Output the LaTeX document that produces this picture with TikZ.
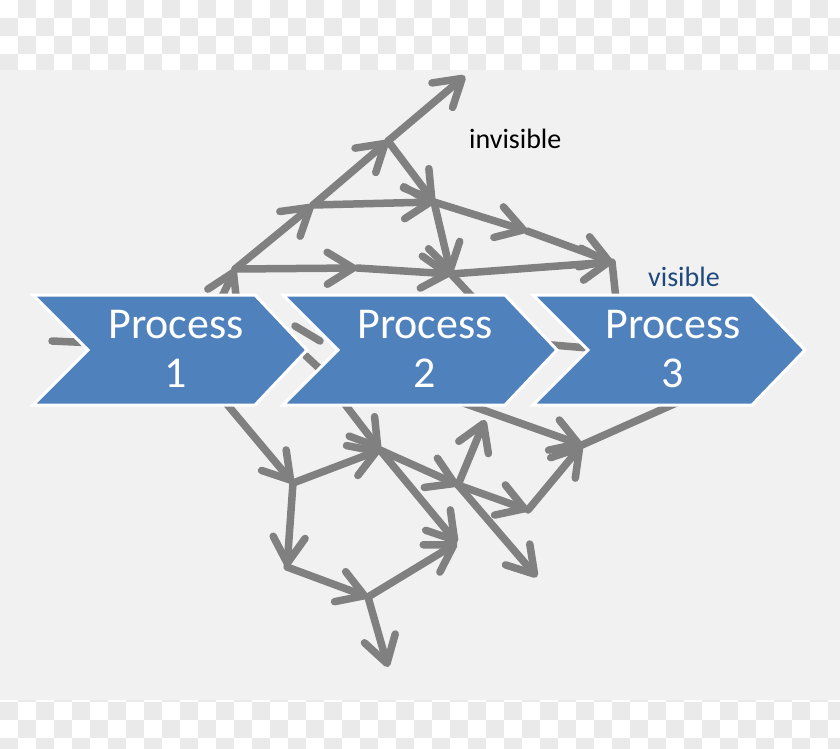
\documentclass[tikz,border=0pt]{standalone}
\usepackage{fontspec}
\setmainfont{Carlito}
\usetikzlibrary{arrows.meta}
\definecolor{bgc}{HTML}{F1F1F1}
\definecolor{chk}{HTML}{EAEAEA}
\definecolor{arr}{HTML}{808080}
\definecolor{chev}{HTML}{4F81BD}
\definecolor{vis}{HTML}{1F497D}
\begin{document}
\begin{tikzpicture}[x=1pt,y=-1pt,
  link/.style={draw=arr, line width=7.5pt, line cap=round, -{Straight Barb[length=26pt,width=32pt,round]}},
  plain/.style={draw=arr, line width=7.5pt, line cap=round},
  chevron/.style={fill=chev, draw=white, line width=3pt, line join=miter},
  ptext/.style={text=white, font=\fontsize{44}{48}\selectfont, anchor=base, inner sep=0pt},
  lbl/.style={font=\fontsize{28}{30}\selectfont, anchor=base west, inner sep=0pt},
]
\useasboundingbox (0,0) rectangle (840,749);
\fill[bgc] (0,0) rectangle (840,749);
% checker strips
\begin{scope}
\clip (0,0) rectangle (840,70);
\fill[white] (0,0) rectangle (840,70);
\foreach \i in {0,...,46} {\foreach \j in {0,...,3} {
  \ifodd\numexpr\i+\j\relax \fill[chk] (\i*18,\j*18) rectangle (\i*18+18,\j*18+18); \fi}}
\end{scope}
\begin{scope}
\clip (0,700) rectangle (840,749);
\fill[white] (0,700) rectangle (840,749);
\foreach \i in {0,...,46} {\foreach \j in {38,...,41} {
  \ifodd\numexpr\i+\j\relax \fill[chk] (\i*18,\j*18) rectangle (\i*18+18,\j*18+18); \fi}}
\end{scope}

% graph points
\coordinate (A) at (388,141);
\coordinate (T0) at (465,76);
\coordinate (B) at (313,205);
\coordinate (C) at (434,202);
\coordinate (M) at (527,231);
\coordinate (E) at (612,262);
\coordinate (D) at (451,274);
\coordinate (G) at (235,269);
\coordinate (H) at (357,268);
\coordinate (Gin) at (212,318);
\coordinate (Dout) at (492,318);
\coordinate (Eout) at (618,318);
\coordinate (W0) at (52,341);
\coordinate (W1) at (140,345);
\coordinate (X0) at (540,344);
\coordinate (X1) at (600,349);
\coordinate (Y0) at (295,326);
\coordinate (Y1) at (320,341);
\coordinate (Z0) at (306,356);
\coordinate (Z1) at (321,370);

\coordinate (L) at (293,483);
\coordinate (K) at (380,450);
\coordinate (N) at (287,567);
\coordinate (O) at (368,597);
\coordinate (P) at (457,543);
\coordinate (Q) at (388,667);
\coordinate (R) at (458,485);
\coordinate (S) at (485,420);
\coordinate (T) at (528,510);
\coordinate (U) at (537,577);
\coordinate (F) at (582,445);
\coordinate (Lsrc) at (215,390);
\coordinate (Ksrc) at (334,390);
\coordinate (Fsrc) at (455,400);
\coordinate (Fout) at (710,388);

% upper connectors
\draw[link] (B) -- (A);
\draw[link] (A) -- (T0);
\draw[link] (A) -- (C);
\draw[link] (B) -- (C);
\draw[link] (C) -- (M);
\draw[link] (M) -- (E);
\draw[link] (C) -- (D);
\draw[link] (G) -- (B);
\draw[link] (G) -- (H);
\draw[link] (H) -- (D);
\draw[link] (D) -- (E);
\draw[link] (Gin) -- (G);
\draw[plain] (E) -- (Eout);
\draw[plain] (D) -- (Dout);
\draw[plain] (W0) -- (W1);
\draw[plain] (X0) -- (X1);
\draw[plain] (Y0) -- (Y1);
\draw[plain] (Z0) -- (Z1);

% lower connectors
\draw[link] (Lsrc) -- (L);
\draw[link] (L) -- (K);
\draw[link] (L) -- (N);
\draw[link] (N) -- (O);
\draw[link] (O) -- (P);
\draw[link] (O) -- (Q);
\draw[link] (K) -- (P);
\draw[link] (Ksrc) -- (K);
\draw[link] (K) -- (R);
\draw[link] (R) -- (S);
\draw[link] (R) -- (T);
\draw[link] (R) -- (U);
\draw[link] (T) -- (F);
\draw[link] (Fsrc) -- (F);
\draw[plain] (F) -- (Fout);

% chevrons
\draw[chevron] (33,295) -- (255,295) -- (307,350) -- (255,405) -- (33,405) -- (88,350) -- cycle;
\draw[chevron] (283,295) -- (505,295) -- (557,350) -- (505,405) -- (283,405) -- (338,350) -- cycle;
\draw[chevron] (533,295) -- (752,295) -- (805,350) -- (752,405) -- (533,405) -- (588,350) -- cycle;

\node[ptext] (p1a) at (176,338) {Process};
\node[ptext] (p1b) at (176,387) {1};
\node[ptext] (p2a) at (425,338) {Process};
\node[ptext] (p2b) at (425,387) {2};
\node[ptext] (p3a) at (673,338) {Process};
\node[ptext] (p3b) at (673,387) {3};

\node[lbl] (inv) at (469,148) {invisible};
\node[lbl, text=vis] (vis) at (648,286) {visible};
\end{tikzpicture}
\end{document}
